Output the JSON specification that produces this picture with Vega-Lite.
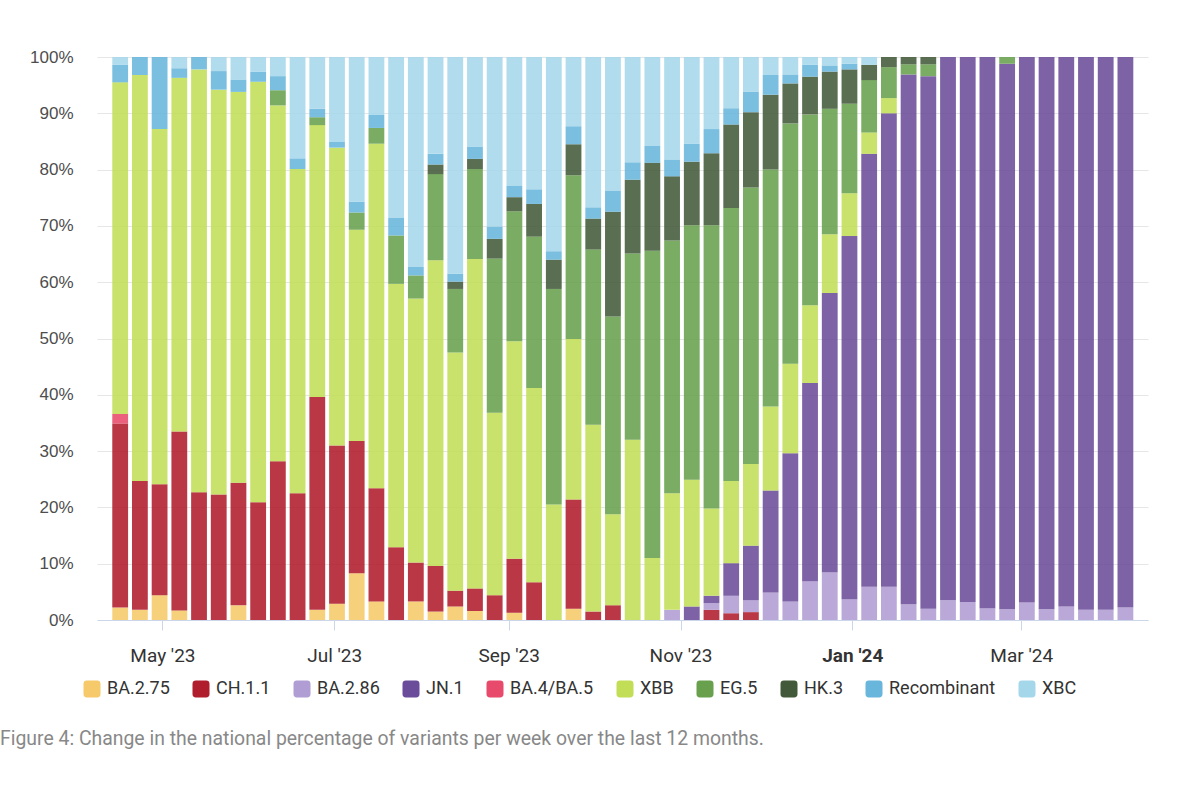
{
  "$schema": "https://vega.github.io/schema/vega-lite/v6.json",
  "width": 1051,
  "height": 563,
  "autosize": {"type": "none"},
  "padding": {"left": 97, "top": 57, "right": 52, "bottom": 165},
  "background": "white",
  "config": {"view": {"stroke": null}},
  "title": {
    "text": "Figure 4: Change in the national percentage of variants per week over the last 12 months.",
    "orient": "bottom",
    "anchor": "start",
    "frame": "group",
    "dx": -97,
    "offset": 32,
    "font": "Roboto",
    "fontSize": 19.4,
    "fontWeight": "normal",
    "color": "#888888"
  },
  "data": {
    "values": [
      {"week": "2023-04-16", "variant": "BA.2.75", "pct": 2.2},
      {"week": "2023-04-16", "variant": "CH.1.1", "pct": 32.7},
      {"week": "2023-04-16", "variant": "BA.4/BA.5", "pct": 1.7},
      {"week": "2023-04-16", "variant": "XBB", "pct": 58.9},
      {"week": "2023-04-16", "variant": "Recombinant", "pct": 3.1},
      {"week": "2023-04-16", "variant": "XBC", "pct": 1.4},
      {"week": "2023-04-23", "variant": "BA.2.75", "pct": 1.8},
      {"week": "2023-04-23", "variant": "CH.1.1", "pct": 22.9},
      {"week": "2023-04-23", "variant": "XBB", "pct": 72.1},
      {"week": "2023-04-23", "variant": "Recombinant", "pct": 3.2},
      {"week": "2023-04-30", "variant": "BA.2.75", "pct": 4.4},
      {"week": "2023-04-30", "variant": "CH.1.1", "pct": 19.7},
      {"week": "2023-04-30", "variant": "XBB", "pct": 63.1},
      {"week": "2023-04-30", "variant": "Recombinant", "pct": 12.8},
      {"week": "2023-05-07", "variant": "BA.2.75", "pct": 1.7},
      {"week": "2023-05-07", "variant": "CH.1.1", "pct": 31.8},
      {"week": "2023-05-07", "variant": "XBB", "pct": 62.8},
      {"week": "2023-05-07", "variant": "Recombinant", "pct": 1.7},
      {"week": "2023-05-07", "variant": "XBC", "pct": 2.0},
      {"week": "2023-05-14", "variant": "CH.1.1", "pct": 22.7},
      {"week": "2023-05-14", "variant": "XBB", "pct": 75.1},
      {"week": "2023-05-14", "variant": "Recombinant", "pct": 2.2},
      {"week": "2023-05-21", "variant": "CH.1.1", "pct": 22.3},
      {"week": "2023-05-21", "variant": "XBB", "pct": 71.9},
      {"week": "2023-05-21", "variant": "Recombinant", "pct": 3.3},
      {"week": "2023-05-21", "variant": "XBC", "pct": 2.5},
      {"week": "2023-05-28", "variant": "BA.2.75", "pct": 2.6},
      {"week": "2023-05-28", "variant": "CH.1.1", "pct": 21.8},
      {"week": "2023-05-28", "variant": "XBB", "pct": 69.4},
      {"week": "2023-05-28", "variant": "Recombinant", "pct": 2.2},
      {"week": "2023-05-28", "variant": "XBC", "pct": 4.0},
      {"week": "2023-06-04", "variant": "CH.1.1", "pct": 20.9},
      {"week": "2023-06-04", "variant": "XBB", "pct": 74.7},
      {"week": "2023-06-04", "variant": "Recombinant", "pct": 1.8},
      {"week": "2023-06-04", "variant": "XBC", "pct": 2.6},
      {"week": "2023-06-11", "variant": "CH.1.1", "pct": 28.2},
      {"week": "2023-06-11", "variant": "XBB", "pct": 63.2},
      {"week": "2023-06-11", "variant": "EG.5", "pct": 2.7},
      {"week": "2023-06-11", "variant": "Recombinant", "pct": 2.5},
      {"week": "2023-06-11", "variant": "XBC", "pct": 3.4},
      {"week": "2023-06-18", "variant": "CH.1.1", "pct": 22.5},
      {"week": "2023-06-18", "variant": "XBB", "pct": 57.6},
      {"week": "2023-06-18", "variant": "Recombinant", "pct": 1.9},
      {"week": "2023-06-18", "variant": "XBC", "pct": 18.0},
      {"week": "2023-06-25", "variant": "BA.2.75", "pct": 1.8},
      {"week": "2023-06-25", "variant": "CH.1.1", "pct": 37.8},
      {"week": "2023-06-25", "variant": "XBB", "pct": 48.3},
      {"week": "2023-06-25", "variant": "EG.5", "pct": 1.4},
      {"week": "2023-06-25", "variant": "Recombinant", "pct": 1.5},
      {"week": "2023-06-25", "variant": "XBC", "pct": 9.2},
      {"week": "2023-07-02", "variant": "BA.2.75", "pct": 2.9},
      {"week": "2023-07-02", "variant": "CH.1.1", "pct": 28.1},
      {"week": "2023-07-02", "variant": "XBB", "pct": 52.9},
      {"week": "2023-07-02", "variant": "Recombinant", "pct": 1.0},
      {"week": "2023-07-02", "variant": "XBC", "pct": 15.1},
      {"week": "2023-07-09", "variant": "BA.2.75", "pct": 8.3},
      {"week": "2023-07-09", "variant": "CH.1.1", "pct": 23.5},
      {"week": "2023-07-09", "variant": "XBB", "pct": 37.5},
      {"week": "2023-07-09", "variant": "EG.5", "pct": 3.1},
      {"week": "2023-07-09", "variant": "Recombinant", "pct": 1.9},
      {"week": "2023-07-09", "variant": "XBC", "pct": 25.7},
      {"week": "2023-07-16", "variant": "BA.2.75", "pct": 3.3},
      {"week": "2023-07-16", "variant": "CH.1.1", "pct": 20.1},
      {"week": "2023-07-16", "variant": "XBB", "pct": 61.2},
      {"week": "2023-07-16", "variant": "EG.5", "pct": 2.8},
      {"week": "2023-07-16", "variant": "Recombinant", "pct": 2.3},
      {"week": "2023-07-16", "variant": "XBC", "pct": 10.3},
      {"week": "2023-07-23", "variant": "CH.1.1", "pct": 12.9},
      {"week": "2023-07-23", "variant": "XBB", "pct": 46.8},
      {"week": "2023-07-23", "variant": "EG.5", "pct": 8.6},
      {"week": "2023-07-23", "variant": "Recombinant", "pct": 3.1},
      {"week": "2023-07-23", "variant": "XBC", "pct": 28.6},
      {"week": "2023-07-30", "variant": "BA.2.75", "pct": 3.3},
      {"week": "2023-07-30", "variant": "CH.1.1", "pct": 6.9},
      {"week": "2023-07-30", "variant": "XBB", "pct": 46.9},
      {"week": "2023-07-30", "variant": "EG.5", "pct": 4.1},
      {"week": "2023-07-30", "variant": "Recombinant", "pct": 1.5},
      {"week": "2023-07-30", "variant": "XBC", "pct": 37.3},
      {"week": "2023-08-06", "variant": "BA.2.75", "pct": 1.5},
      {"week": "2023-08-06", "variant": "CH.1.1", "pct": 8.1},
      {"week": "2023-08-06", "variant": "XBB", "pct": 54.3},
      {"week": "2023-08-06", "variant": "EG.5", "pct": 15.3},
      {"week": "2023-08-06", "variant": "HK.3", "pct": 1.7},
      {"week": "2023-08-06", "variant": "Recombinant", "pct": 1.9},
      {"week": "2023-08-06", "variant": "XBC", "pct": 17.2},
      {"week": "2023-08-13", "variant": "BA.2.75", "pct": 2.4},
      {"week": "2023-08-13", "variant": "CH.1.1", "pct": 2.8},
      {"week": "2023-08-13", "variant": "XBB", "pct": 42.3},
      {"week": "2023-08-13", "variant": "EG.5", "pct": 11.3},
      {"week": "2023-08-13", "variant": "HK.3", "pct": 1.3},
      {"week": "2023-08-13", "variant": "Recombinant", "pct": 1.4},
      {"week": "2023-08-13", "variant": "XBC", "pct": 38.5},
      {"week": "2023-08-20", "variant": "BA.2.75", "pct": 1.6},
      {"week": "2023-08-20", "variant": "CH.1.1", "pct": 4.0},
      {"week": "2023-08-20", "variant": "XBB", "pct": 58.5},
      {"week": "2023-08-20", "variant": "EG.5", "pct": 16.0},
      {"week": "2023-08-20", "variant": "HK.3", "pct": 1.8},
      {"week": "2023-08-20", "variant": "Recombinant", "pct": 2.2},
      {"week": "2023-08-20", "variant": "XBC", "pct": 15.9},
      {"week": "2023-08-27", "variant": "CH.1.1", "pct": 4.4},
      {"week": "2023-08-27", "variant": "XBB", "pct": 32.4},
      {"week": "2023-08-27", "variant": "EG.5", "pct": 27.4},
      {"week": "2023-08-27", "variant": "HK.3", "pct": 3.5},
      {"week": "2023-08-27", "variant": "Recombinant", "pct": 2.2},
      {"week": "2023-08-27", "variant": "XBC", "pct": 30.1},
      {"week": "2023-09-03", "variant": "BA.2.75", "pct": 1.3},
      {"week": "2023-09-03", "variant": "CH.1.1", "pct": 9.6},
      {"week": "2023-09-03", "variant": "XBB", "pct": 38.6},
      {"week": "2023-09-03", "variant": "EG.5", "pct": 23.1},
      {"week": "2023-09-03", "variant": "HK.3", "pct": 2.5},
      {"week": "2023-09-03", "variant": "Recombinant", "pct": 2.0},
      {"week": "2023-09-03", "variant": "XBC", "pct": 22.9},
      {"week": "2023-09-10", "variant": "CH.1.1", "pct": 6.7},
      {"week": "2023-09-10", "variant": "XBB", "pct": 34.5},
      {"week": "2023-09-10", "variant": "EG.5", "pct": 26.9},
      {"week": "2023-09-10", "variant": "HK.3", "pct": 5.8},
      {"week": "2023-09-10", "variant": "Recombinant", "pct": 2.6},
      {"week": "2023-09-10", "variant": "XBC", "pct": 23.5},
      {"week": "2023-09-17", "variant": "XBB", "pct": 20.5},
      {"week": "2023-09-17", "variant": "EG.5", "pct": 38.3},
      {"week": "2023-09-17", "variant": "HK.3", "pct": 5.2},
      {"week": "2023-09-17", "variant": "Recombinant", "pct": 1.5},
      {"week": "2023-09-17", "variant": "XBC", "pct": 34.5},
      {"week": "2023-09-24", "variant": "BA.2.75", "pct": 2.0},
      {"week": "2023-09-24", "variant": "CH.1.1", "pct": 19.4},
      {"week": "2023-09-24", "variant": "XBB", "pct": 28.5},
      {"week": "2023-09-24", "variant": "EG.5", "pct": 29.1},
      {"week": "2023-09-24", "variant": "HK.3", "pct": 5.5},
      {"week": "2023-09-24", "variant": "Recombinant", "pct": 3.2},
      {"week": "2023-09-24", "variant": "XBC", "pct": 12.3},
      {"week": "2023-10-01", "variant": "CH.1.1", "pct": 1.5},
      {"week": "2023-10-01", "variant": "XBB", "pct": 33.2},
      {"week": "2023-10-01", "variant": "EG.5", "pct": 31.1},
      {"week": "2023-10-01", "variant": "HK.3", "pct": 5.5},
      {"week": "2023-10-01", "variant": "Recombinant", "pct": 2.0},
      {"week": "2023-10-01", "variant": "XBC", "pct": 26.7},
      {"week": "2023-10-08", "variant": "CH.1.1", "pct": 2.6},
      {"week": "2023-10-08", "variant": "XBB", "pct": 16.2},
      {"week": "2023-10-08", "variant": "EG.5", "pct": 35.1},
      {"week": "2023-10-08", "variant": "HK.3", "pct": 18.6},
      {"week": "2023-10-08", "variant": "Recombinant", "pct": 3.8},
      {"week": "2023-10-08", "variant": "XBC", "pct": 23.7},
      {"week": "2023-10-15", "variant": "XBB", "pct": 32.0},
      {"week": "2023-10-15", "variant": "EG.5", "pct": 33.1},
      {"week": "2023-10-15", "variant": "HK.3", "pct": 13.1},
      {"week": "2023-10-15", "variant": "Recombinant", "pct": 3.1},
      {"week": "2023-10-15", "variant": "XBC", "pct": 18.7},
      {"week": "2023-10-22", "variant": "XBB", "pct": 11.0},
      {"week": "2023-10-22", "variant": "EG.5", "pct": 54.6},
      {"week": "2023-10-22", "variant": "HK.3", "pct": 15.6},
      {"week": "2023-10-22", "variant": "Recombinant", "pct": 3.0},
      {"week": "2023-10-22", "variant": "XBC", "pct": 15.8},
      {"week": "2023-10-29", "variant": "BA.2.86", "pct": 1.8},
      {"week": "2023-10-29", "variant": "XBB", "pct": 20.7},
      {"week": "2023-10-29", "variant": "EG.5", "pct": 44.9},
      {"week": "2023-10-29", "variant": "HK.3", "pct": 11.4},
      {"week": "2023-10-29", "variant": "Recombinant", "pct": 3.0},
      {"week": "2023-10-29", "variant": "XBC", "pct": 18.2},
      {"week": "2023-11-05", "variant": "JN.1", "pct": 2.4},
      {"week": "2023-11-05", "variant": "XBB", "pct": 22.5},
      {"week": "2023-11-05", "variant": "EG.5", "pct": 45.2},
      {"week": "2023-11-05", "variant": "HK.3", "pct": 11.3},
      {"week": "2023-11-05", "variant": "Recombinant", "pct": 3.2},
      {"week": "2023-11-05", "variant": "XBC", "pct": 15.4},
      {"week": "2023-11-12", "variant": "CH.1.1", "pct": 1.8},
      {"week": "2023-11-12", "variant": "BA.2.86", "pct": 1.2},
      {"week": "2023-11-12", "variant": "JN.1", "pct": 1.3},
      {"week": "2023-11-12", "variant": "XBB", "pct": 15.5},
      {"week": "2023-11-12", "variant": "EG.5", "pct": 50.3},
      {"week": "2023-11-12", "variant": "HK.3", "pct": 12.8},
      {"week": "2023-11-12", "variant": "Recombinant", "pct": 4.3},
      {"week": "2023-11-12", "variant": "XBC", "pct": 12.8},
      {"week": "2023-11-19", "variant": "CH.1.1", "pct": 1.2},
      {"week": "2023-11-19", "variant": "BA.2.86", "pct": 3.1},
      {"week": "2023-11-19", "variant": "JN.1", "pct": 5.8},
      {"week": "2023-11-19", "variant": "XBB", "pct": 14.6},
      {"week": "2023-11-19", "variant": "EG.5", "pct": 48.5},
      {"week": "2023-11-19", "variant": "HK.3", "pct": 14.8},
      {"week": "2023-11-19", "variant": "Recombinant", "pct": 2.9},
      {"week": "2023-11-19", "variant": "XBC", "pct": 9.1},
      {"week": "2023-11-26", "variant": "CH.1.1", "pct": 1.4},
      {"week": "2023-11-26", "variant": "BA.2.86", "pct": 2.1},
      {"week": "2023-11-26", "variant": "JN.1", "pct": 9.7},
      {"week": "2023-11-26", "variant": "XBB", "pct": 14.5},
      {"week": "2023-11-26", "variant": "EG.5", "pct": 49.1},
      {"week": "2023-11-26", "variant": "HK.3", "pct": 13.4},
      {"week": "2023-11-26", "variant": "Recombinant", "pct": 3.6},
      {"week": "2023-11-26", "variant": "XBC", "pct": 6.2},
      {"week": "2023-12-03", "variant": "BA.2.86", "pct": 4.9},
      {"week": "2023-12-03", "variant": "JN.1", "pct": 18.1},
      {"week": "2023-12-03", "variant": "XBB", "pct": 14.9},
      {"week": "2023-12-03", "variant": "EG.5", "pct": 42.1},
      {"week": "2023-12-03", "variant": "HK.3", "pct": 13.3},
      {"week": "2023-12-03", "variant": "Recombinant", "pct": 3.5},
      {"week": "2023-12-03", "variant": "XBC", "pct": 3.2},
      {"week": "2023-12-10", "variant": "BA.2.86", "pct": 3.3},
      {"week": "2023-12-10", "variant": "JN.1", "pct": 26.3},
      {"week": "2023-12-10", "variant": "XBB", "pct": 15.9},
      {"week": "2023-12-10", "variant": "EG.5", "pct": 42.7},
      {"week": "2023-12-10", "variant": "HK.3", "pct": 7.1},
      {"week": "2023-12-10", "variant": "Recombinant", "pct": 1.6},
      {"week": "2023-12-10", "variant": "XBC", "pct": 3.1},
      {"week": "2023-12-17", "variant": "BA.2.86", "pct": 6.9},
      {"week": "2023-12-17", "variant": "JN.1", "pct": 35.2},
      {"week": "2023-12-17", "variant": "XBB", "pct": 13.8},
      {"week": "2023-12-17", "variant": "EG.5", "pct": 33.9},
      {"week": "2023-12-17", "variant": "HK.3", "pct": 6.7},
      {"week": "2023-12-17", "variant": "Recombinant", "pct": 2.1},
      {"week": "2023-12-17", "variant": "XBC", "pct": 1.4},
      {"week": "2023-12-24", "variant": "BA.2.86", "pct": 8.5},
      {"week": "2023-12-24", "variant": "JN.1", "pct": 49.6},
      {"week": "2023-12-24", "variant": "XBB", "pct": 10.4},
      {"week": "2023-12-24", "variant": "EG.5", "pct": 22.3},
      {"week": "2023-12-24", "variant": "HK.3", "pct": 6.6},
      {"week": "2023-12-24", "variant": "Recombinant", "pct": 1.1},
      {"week": "2023-12-24", "variant": "XBC", "pct": 1.5},
      {"week": "2023-12-31", "variant": "BA.2.86", "pct": 3.7},
      {"week": "2023-12-31", "variant": "JN.1", "pct": 64.5},
      {"week": "2023-12-31", "variant": "XBB", "pct": 7.6},
      {"week": "2023-12-31", "variant": "EG.5", "pct": 15.9},
      {"week": "2023-12-31", "variant": "HK.3", "pct": 6.1},
      {"week": "2023-12-31", "variant": "Recombinant", "pct": 1.0},
      {"week": "2023-12-31", "variant": "XBC", "pct": 1.2},
      {"week": "2024-01-07", "variant": "BA.2.86", "pct": 5.9},
      {"week": "2024-01-07", "variant": "JN.1", "pct": 76.9},
      {"week": "2024-01-07", "variant": "XBB", "pct": 3.8},
      {"week": "2024-01-07", "variant": "EG.5", "pct": 9.3},
      {"week": "2024-01-07", "variant": "HK.3", "pct": 2.7},
      {"week": "2024-01-07", "variant": "XBC", "pct": 1.4},
      {"week": "2024-01-14", "variant": "BA.2.86", "pct": 5.9},
      {"week": "2024-01-14", "variant": "JN.1", "pct": 84.1},
      {"week": "2024-01-14", "variant": "XBB", "pct": 2.7},
      {"week": "2024-01-14", "variant": "EG.5", "pct": 5.5},
      {"week": "2024-01-14", "variant": "HK.3", "pct": 1.8},
      {"week": "2024-01-21", "variant": "BA.2.86", "pct": 2.8},
      {"week": "2024-01-21", "variant": "JN.1", "pct": 94.1},
      {"week": "2024-01-21", "variant": "EG.5", "pct": 1.8},
      {"week": "2024-01-21", "variant": "HK.3", "pct": 1.3},
      {"week": "2024-01-28", "variant": "BA.2.86", "pct": 2.0},
      {"week": "2024-01-28", "variant": "JN.1", "pct": 94.6},
      {"week": "2024-01-28", "variant": "EG.5", "pct": 2.1},
      {"week": "2024-01-28", "variant": "HK.3", "pct": 1.3},
      {"week": "2024-02-04", "variant": "BA.2.86", "pct": 3.5},
      {"week": "2024-02-04", "variant": "JN.1", "pct": 96.5},
      {"week": "2024-02-11", "variant": "BA.2.86", "pct": 3.2},
      {"week": "2024-02-11", "variant": "JN.1", "pct": 96.8},
      {"week": "2024-02-18", "variant": "BA.2.86", "pct": 2.1},
      {"week": "2024-02-18", "variant": "JN.1", "pct": 97.9},
      {"week": "2024-02-25", "variant": "BA.2.86", "pct": 1.9},
      {"week": "2024-02-25", "variant": "JN.1", "pct": 96.9},
      {"week": "2024-02-25", "variant": "EG.5", "pct": 1.2},
      {"week": "2024-03-03", "variant": "BA.2.86", "pct": 3.1},
      {"week": "2024-03-03", "variant": "JN.1", "pct": 96.9},
      {"week": "2024-03-10", "variant": "BA.2.86", "pct": 1.9},
      {"week": "2024-03-10", "variant": "JN.1", "pct": 98.1},
      {"week": "2024-03-17", "variant": "BA.2.86", "pct": 2.4},
      {"week": "2024-03-17", "variant": "JN.1", "pct": 97.6},
      {"week": "2024-03-24", "variant": "BA.2.86", "pct": 1.8},
      {"week": "2024-03-24", "variant": "JN.1", "pct": 98.2},
      {"week": "2024-03-31", "variant": "BA.2.86", "pct": 1.8},
      {"week": "2024-03-31", "variant": "JN.1", "pct": 98.2},
      {"week": "2024-04-07", "variant": "BA.2.86", "pct": 2.2},
      {"week": "2024-04-07", "variant": "JN.1", "pct": 97.8}
    ]
  },
  "transform": [
    {"calculate": "indexof(['BA.2.75','CH.1.1','BA.2.86','JN.1','BA.4/BA.5','XBB','EG.5','HK.3','Recombinant','XBC'], datum.variant)", "as": "ord"}
  ],
  "mark": {"type": "bar", "size": 15.8, "opacity": 0.88},
  "encoding": {
    "x": {
      "field": "week",
      "type": "temporal",
      "scale": {
        "type": "utc",
        "domain": [
          {"year": 2023, "month": 4, "date": 9, "hours": 13, "utc": true},
          {"year": 2024, "month": 4, "date": 13, "hours": 6, "utc": true}
        ]
      },
      "axis": {
        "title": null,
        "values": [
          {"year": 2023, "month": 5, "date": 1, "utc": true},
          {"year": 2023, "month": 7, "date": 1, "utc": true},
          {"year": 2023, "month": 9, "date": 1, "utc": true},
          {"year": 2023, "month": 11, "date": 1, "utc": true},
          {"year": 2024, "month": 1, "date": 1, "utc": true},
          {"year": 2024, "month": 3, "date": 1, "utc": true}
        ],
        "labelExpr": "utcFormat(datum.value, \"%b '%y\")",
        "grid": false,
        "domain": true,
        "domainColor": "#ccd6eb",
        "domainWidth": 1,
        "ticks": true,
        "tickColor": "#ccd6eb",
        "tickSize": 10,
        "labelFont": "Roboto",
        "labelFontSize": 19,
        "labelColor": "#333333",
        "labelPadding": 16,
        "labelFontWeight": {"condition": {"test": "utcmonth(datum.value) === 0", "value": "bold"}, "value": "normal"}
      }
    },
    "y": {
      "field": "pct",
      "type": "quantitative",
      "stack": "normalize",
      "scale": {"domain": [0, 1], "nice": false},
      "axis": {
        "title": null,
        "format": ".0%",
        "values": [0, 0.1, 0.2, 0.3, 0.4, 0.5, 0.6, 0.7, 0.8, 0.9, 1],
        "domain": false,
        "ticks": false,
        "grid": true,
        "gridColor": "#e6e6e6",
        "labelFont": "Liberation Sans",
        "labelFontSize": 17,
        "labelColor": "#4d4d4d",
        "labelPadding": 24
      }
    },
    "color": {
      "field": "variant",
      "type": "nominal",
      "scale": {
        "domain": ["BA.2.75", "CH.1.1", "BA.2.86", "JN.1", "BA.4/BA.5", "XBB", "EG.5", "HK.3", "Recombinant", "XBC"],
        "range": ["#f6c96a", "#b01d2c", "#b09dd3", "#6b4c9a", "#e84a6b", "#c2de56", "#68a04e", "#435a3a", "#68b6dc", "#a5d7ea"]
      },
      "legend": {
        "title": null,
        "orient": "none",
        "legendX": -14,
        "legendY": 623,
        "direction": "horizontal",
        "columns": 10,
        "symbolType": "M-1,-0.6 Q-1,-1 -0.6,-1 L0.6,-1 Q1,-1 1,-0.6 L1,0.6 Q1,1 0.6,1 L-0.6,1 Q-1,1 -1,0.6 Z",
        "symbolSize": 289,
        "symbolOpacity": 1,
        "symbolStrokeWidth": 0,
        "labelFont": "Roboto",
        "labelFontSize": 18,
        "labelColor": "#333333",
        "labelOffset": 6,
        "columnPadding": 22
      }
    },
    "order": {"field": "ord", "type": "quantitative", "sort": "ascending"}
  }
}
